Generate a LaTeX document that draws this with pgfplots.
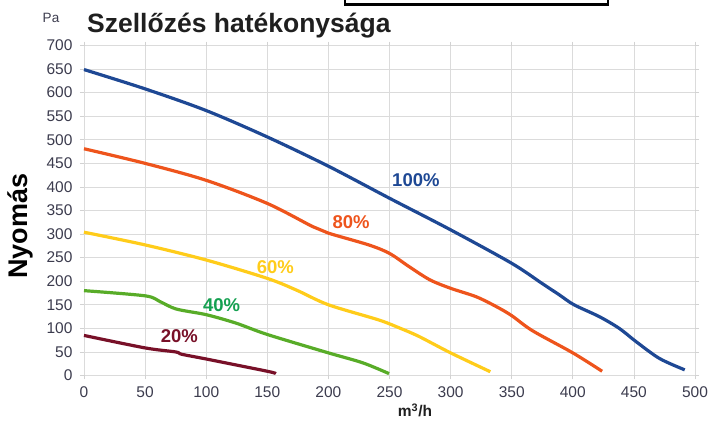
\documentclass[border=0pt]{standalone}
\usepackage{pgfplots}
\pgfplotsset{compat=1.18}
\usepackage{fontspec}
\setmainfont{Liberation Sans}
\definecolor{cblue}{RGB}{30,72,148}
\definecolor{corange}{RGB}{238,84,28}
\definecolor{cyellow}{RGB}{255,204,26}
\definecolor{cgreen}{RGB}{88,172,40}
\definecolor{cgreenlbl}{RGB}{20,160,80}
\definecolor{cmaroon}{RGB}{120,16,40}
\definecolor{tickc}{RGB}{60,60,78}
\begin{document}
\begin{tikzpicture}
\path[use as bounding box] (0pt,0pt) rectangle (712pt,423pt);
\draw[line width=2.5pt] (345pt,418.5pt) rectangle (608pt,440pt);
\node[anchor=base west, inner sep=0pt, font=\fontsize{26.5}{30}\selectfont\bfseries, text=black!88] at (87pt,390pt) {Szellőzés hatékonysága};
\begin{axis}[
  at={(84pt,47.5pt)}, anchor=south west,
  scale only axis, width=611pt, height=330pt,
  xmin=0, xmax=500, ymin=0, ymax=700, enlargelimits=false,
  xtick={0,50,...,500}, ytick={0,50,...,700},
  grid=major, major grid style={gray!28, line width=0.8pt},
  axis line style={draw=none},
  tick style={gray!35, line width=0.8pt}, tick align=outside, major tick length=4pt,
  ticklabel style={font=\fontsize{15.5}{17}\selectfont, text=tickc},
  yticklabel style={xshift=-4pt},
  xticklabel style={yshift=-4pt},
  /pgf/number format/assume math mode=true,
  xlabel={m\textsuperscript{3}/h},
  xlabel style={at={(axis description cs:0.5417,-0.1045)}, anchor=center, font=\fontsize{15.5}{17}\selectfont\bfseries, text=black!88},
  ylabel={Nyomás},
  ylabel style={at={(axis description cs:-0.1047,0.453)}, anchor=center, font=\fontsize{27}{30}\selectfont\bfseries, text=black},
  clip=false,
]
\addplot[cblue, line width=3.2pt, smooth, tension=0.5] coordinates {
 (0,649) (50,608) (100,562) (150,506) (200,444) (250,376) (300,309) (350,238) (375,195) (389,171) (401,150) (421.6,125) (438,100) (451.7,72) (471,36) (491.6,12)};
\addplot[corange, line width=3.2pt, smooth, tension=0.5] coordinates {
 (0,481) (50,450) (100,414) (150,365) (187,316) (200,302) (233,277) (250,259) (266,231) (283,203) (300,185) (321,167) (337.5,146) (350,127) (367,95) (400,48) (424,9)};
\addplot[cyellow, line width=3.2pt, smooth, tension=0.5] coordinates {
 (0,304) (50,277) (100,245) (150,206) (174,181) (200,150) (241,118) (258,101) (274,83) (300,48) (332.5,8)};
\addplot[cgreen, line width=3.2pt, smooth, tension=0.5] coordinates {
 (0,180) (50,169) (62,157) (75.5,141) (100,129) (124.5,111) (150,87) (200,48) (228,27) (249.6,4)};
\addplot[cmaroon, line width=3.2pt, smooth, tension=0.5] coordinates {
 (0,85) (50,58.5) (75,50) (80,45) (100,35) (150,9) (157,4)};
\node[font=\fontsize{18.5}{20}\selectfont\bfseries, text=cblue] at (axis cs:271.6,415) {100\%};
\node[font=\fontsize{18.5}{20}\selectfont\bfseries, text=corange] at (axis cs:218.6,326) {80\%};
\node[font=\fontsize{18.5}{20}\selectfont\bfseries, text=cyellow] at (axis cs:156.6,230) {60\%};
\node[font=\fontsize{18.5}{20}\selectfont\bfseries, text=cgreenlbl] at (axis cs:112.6,150) {40\%};
\node[font=\fontsize{18.5}{20}\selectfont\bfseries, text=cmaroon] at (axis cs:78,84) {20\%};
\node[font=\fontsize{13.5}{15}\selectfont, text=tickc] at (axis description cs:-0.054,1.083) {Pa};
\end{axis}
\end{tikzpicture}
\end{document}
